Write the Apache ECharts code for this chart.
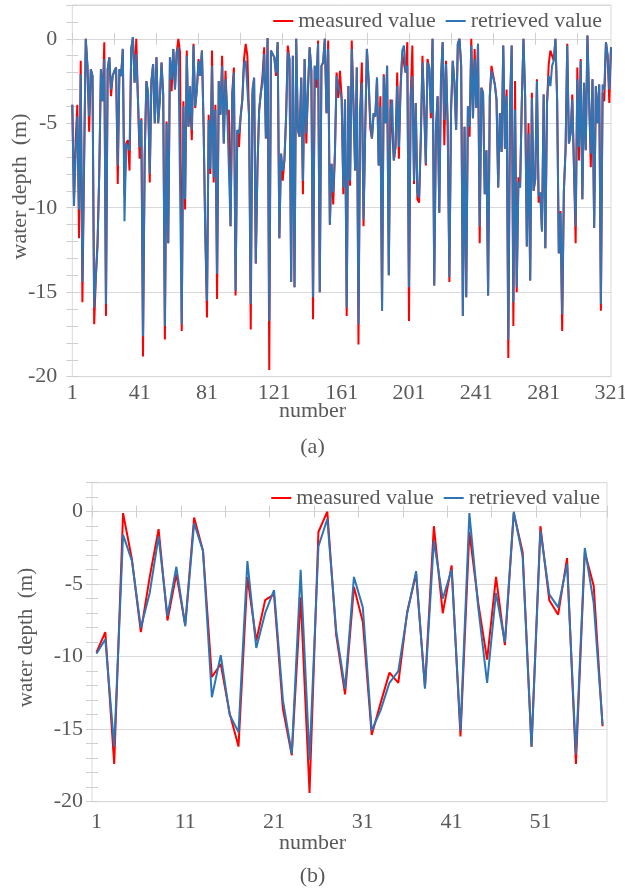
<!DOCTYPE html>
<html>
<head>
<meta charset="utf-8">
<script src="https://cdn.jsdelivr.net/npm/echarts@6/dist/echarts.min.js"></script>
<style>
html,body{margin:0;padding:0;background:#fff;}
#main{width:625px;height:888px;}
</style>
</head>
<body>
<div id="main"></div>
<script>
// ---------- DATA ----------
const seriesNames = ['measured value', 'retrieved value'];

// panel (a): 321 samples
const measuredA = [
 -3.9, -9.5, -6.0, -3.9, -11.8, -1.3, -15.6, -7.5, 0, -1.6,
 -5.5, -1.8, -2.2, -16.9, -14.1, -12.0, -8.0, -1.8, -3.7, -0.2,
 -16.4, -1.8, -1.1, -3.4, -2.2, -1.9, -1.7, -8.6, -1.8, -2.2,
 -0.6, -9.3, -6.2, -6.0, -7.8, -0.6, 0.1, -2.6, 0, -3.6,
 -7.1, -4.7, -18.8, -7.0, -2.5, -3.2, -8.5, -2.5, -1.5, -5.0,
 -1.1, -5.0, -3.6, -1.4, -3.3, -17.8, -4.9, -12.1, -1.1, -3.1,
 -0.6, -3.0, -0.8, 0, -0.8, -17.3, -3.7, -10.1, -0.7, -5.2,
 -3.6, -6.0, -0.3, -4.1, -3.0, -1.2, -2.2, -0.7, -5.2, -11.5,
 -16.5, -4.5, -8.0, -0.7, -8.5, -3.9, -15.4, -2.5, -4.5, -1.0,
 -6.2, -1.9, -4.5, -4.2, -11.1, -3.2, -1.7, -15.2, -5.4, -6.4,
 -4.6, -3.6, -1.2, -0.3, -1.0, -4.6, -17.2, -3.4, -2.3, -13.3,
 -7.6, -4.2, -3.2, -2.2, -0.5, -5.9, 0.05, -19.6, -0.7, -0.8,
 -1.1, -2.2, -0.2, -11.8, -6.8, -8.4, -7.2, -4.6, -0.4, -1.2,
 -14.4, -1.0, -14.7, 0, -5.4, -5.8, -2.3, -9.2, -1.2, -6.2,
 -3.0, -0.5, -1.9, -16.6, -1.6, -2.9, -0.1, -15.0, -1.6, -1.4,
 0, -4.4, -0.1, -11.0, -7.4, -9.8, -6.8, -2.0, -3.5, -1.9,
 -3.5, -9.2, -3.6, -16.4, -2.8, -8.7, -0.1, -3.8, -7.8, -1.7,
 -18.1, -4.3, -1.4, -11.1, -5.4, -0.6, -2.4, -5.3, -5.9, -4.4,
 -4.6, -2.3, -7.5, -3.4, -16.1, -2.1, -5.0, -1.6, -14.0, -3.6,
 -3.6, -7.2, -6.4, -2.0, -7.1, -2.9, -0.9, -1.0, -2.0, -0.2,
 -16.7, -3.4, -0.4, -8.6, -3.8, -9.5, -9.7, -6.0, -1.0, -4.0,
 -7.5, -1.2, -1.7, -4.7, 0, -14.6, -5.4, -3.4, -10.3, -2.4,
 -0.2, -6.3, -1.3, -5.2, -14.4, -4.2, -1.3, -2.6, -5.4, -0.3,
 0, -1.6, -16.4, -5.2, -15.3, -4.0, -5.8, 0, -4.7, -0.6,
 -4.1, -0.3, -12.1, -2.9, -3.2, -9.2, -6.6, -15.2, -3.4, -1.6,
 -1.5, -2.7, -3.6, -8.8, -4.4, -6.7, -0.4, -6.5, -3.0, -18.9,
 -4.0, -0.4, -17.0, -2.5, -15.0, -8.2, -8.8, -3.8, 0, -3.4,
 -12.3, -5.0, -14.3, -3.2, -9.0, -8.3, -2.4, -9.7, -9.1, -11.4,
 -3.3, -12.4, -3.8, -1.5, -0.7, -0.7, -1.3, 0, -3.6, -12.7,
 -10.2, -17.3, -9.0, -6.6, -0.3, -6.2, -5.6, -3.3, -7.6, -12.1,
 -1.7, -7.2, -1.2, -9.5, -2.6, -6.6, 0.2, -3.6, -7.6, -2.4,
 -11.2, -2.8, -5.0, -2.7, -16.1, -3.2, -3.7, -0.2, -1.0, -3.8, -0.5
];
const retrievedA = [
 -3.9, -9.9, -6.8, -4.6, -10.1, -2.1, -14.4, -7.2, 0, -1.6,
 -4.6, -1.8, -2.2, -15.9, -14.0, -12.3, -8.0, -1.8, -3.7, -1.2,
 -15.7, -1.8, -1.1, -3.0, -2.2, -1.9, -1.7, -7.5, -1.8, -2.2,
 -0.6, -10.8, -6.2, -6.2, -6.6, -0.6, 0.1, -2.6, -0.9, -3.6,
 -6.4, -4.8, -17.6, -7.0, -2.5, -3.2, -8.0, -2.5, -1.5, -5.0,
 -1.1, -5.0, -3.6, -1.4, -3.3, -17.0, -5.0, -12.1, -1.1, -2.4,
 -0.6, -3.0, -0.8, -0.5, -0.6, -16.9, -4.0, -9.5, -1.0, -5.2,
 -2.8, -5.4, -0.4, -4.0, -3.0, -1.3, -2.2, -0.7, -5.2, -11.5,
 -15.5, -4.8, -7.7, -1.6, -8.2, -4.2, -13.9, -2.5, -4.5, -1.6,
 -6.2, -2.4, -4.2, -4.2, -11.1, -3.5, -2.0, -14.9, -5.4, -5.6,
 -4.6, -3.6, -1.5, -1.3, -1.3, -4.6, -15.7, -3.0, -2.3, -13.3,
 -7.6, -4.2, -3.2, -2.6, -0.9, -5.9, 0.05, -16.7, -0.7, -0.8,
 -1.1, -2.0, -0.2, -11.8, -6.8, -7.8, -7.2, -4.6, -0.8, -1.2,
 -14.4, -1.0, -14.7, 0, -5.4, -5.8, -2.3, -8.4, -1.2, -5.6,
 -3.0, -0.5, -1.9, -15.3, -1.6, -2.4, -0.3, -15.0, -1.6, -1.4,
 0, -4.4, -0.6, -11.0, -7.4, -9.1, -6.8, -2.2, -2.8, -2.8,
 -3.5, -8.8, -3.6, -15.9, -2.8, -8.4, -0.6, -3.8, -7.8, -1.7,
 -16.9, -4.3, -2.6, -10.7, -5.4, -0.6, -2.4, -4.8, -5.9, -4.4,
 -4.6, -2.3, -7.5, -4.0, -16.1, -2.2, -5.0, -1.6, -14.0, -4.2,
 -3.6, -7.2, -6.4, -2.8, -6.4, -2.9, -0.7, -0.4, -2.0, -1.6,
 -14.7, -3.4, -2.2, -8.4, -3.8, -9.1, -9.4, -6.0, -1.4, -4.0,
 -7.4, -1.4, -1.7, -4.4, 0, -14.6, -5.4, -3.4, -10.3, -2.4,
 -0.2, -4.8, -1.5, -5.2, -14.1, -4.2, -1.3, -2.6, -5.4, -0.3,
 0, -1.6, -16.4, -5.2, -15.3, -4.0, -5.2, -0.4, -4.7, -1.2,
 -4.1, -0.3, -11.1, -2.9, -3.2, -9.2, -6.6, -15.2, -3.4, -1.9,
 -2.0, -2.7, -3.6, -8.8, -4.4, -6.7, -0.4, -6.5, -3.4, -17.8,
 -4.0, -0.4, -15.6, -4.2, -14.7, -8.5, -8.8, -3.8, 0, -3.4,
 -12.3, -5.6, -14.3, -3.5, -9.0, -8.3, -2.5, -9.3, -9.1, -11.4,
 -3.3, -12.4, -3.8, -2.2, -2.8, -1.6, -1.3, 0, -3.6, -12.7,
 -10.3, -16.3, -9.0, -6.6, -0.4, -6.2, -5.6, -3.6, -7.6, -11.1,
 -2.4, -6.4, -1.3, -9.5, -2.6, -6.6, 0.2, -3.6, -6.8, -2.4,
 -11.2, -2.8, -5.0, -2.7, -15.7, -2.7, -3.0, -0.2, -1.0, -3.0, -0.5
];

// panel (b): 58 samples
const measuredB = [
 -9.7, -8.3, -17.4, -0.1, -3.3, -8.3, -4.5, -1.2, -7.5, -4.3,
 -7.8, -0.4, -2.7, -11.4, -10.5, -13.9, -16.2, -4.5, -8.9, -6.1,
 -5.7, -13.6, -16.8, -5.9, -19.4, -1.4, 0, -8.5, -12.6, -5.2,
 -7.6, -15.4, -13.2, -11.1, -11.8, -6.9, -4.3, -12.1, -1.0, -7.0,
 -3.7, -15.5, -1.4, -6.3, -10.2, -4.5, -9.2, -0.1, -2.8, -16.2,
 -1.0, -6.1, -7.1, -3.2, -17.4, -2.8, -5.1, -14.8
];
const retrievedB = [
 -9.8, -8.8, -16.2, -1.6, -3.4, -8.0, -5.6, -1.7, -7.2, -3.8,
 -7.9, -0.8, -2.7, -12.8, -9.9, -14.0, -15.2, -3.4, -9.4, -7.0,
 -5.4, -13.0, -16.7, -4.0, -17.1, -2.4, -0.5, -8.2, -12.2, -4.5,
 -6.6, -15.1, -13.7, -11.8, -11.0, -7.0, -4.1, -12.2, -2.0, -6.0,
 -4.0, -15.1, -0.1, -6.6, -11.8, -5.6, -9.0, 0, -3.1, -16.2,
 -1.3, -5.7, -6.6, -3.6, -16.7, -2.5, -6.3, -14.7
];

// category labels (sample numbers)
const categoriesA = measuredA.map((_, i) => String(i + 1));
const categoriesB = measuredB.map((_, i) => String(i + 1));

const yMin = -20, yMax = 2, yStep = 5;
const yTitle = 'water depth  (m)';
const xTitle = 'number';
const panelTags = ['(a)', '(b)'];

// ---------- STYLE ----------
const FONT = "'Liberation Serif', 'Times New Roman', serif";
const TXT = '#595959';
const GRID_C = '#D9D9D9';
const TICK_C = '#CFCFCF';
const RED = '#FF0000';
const BLUE = '#2E75B6';

const A = { left: 72.3, top: 5, width: 538.7, height: 371.7 };
const B = { left: 92, top: 482.7, width: 515, height: 319 };
const zeroA = A.top + A.height * (yMax / (yMax - yMin));
const zeroB = B.top + B.height * (yMax / (yMax - yMin));

function labelYAxis(gridIndex, margin) {
  return {
    type: 'value', gridIndex, position: 'left', min: yMin, max: yMax, interval: yStep,
    axisLine: { show: false }, axisTick: { show: false },
    axisLabel: { showMaxLabel: false, margin, fontFamily: FONT, fontSize: 22, color: TXT },
    splitLine: { show: true, lineStyle: { color: GRID_C, width: 1 } }
  };
}
function tickYAxis(gridIndex) {
  return {
    type: 'value', gridIndex, position: 'left', min: yMin, max: yMax, interval: 1, offset: -6,
    axisLine: { show: false, onZero: false }, axisLabel: { show: false }, splitLine: { show: false },
    axisTick: { show: true, length: 12, lineStyle: { color: TICK_C, width: 1 } }
  };
}
function labelXAxis(gridIndex, data, gap, lblInterval, margin) {
  return {
    type: 'category', gridIndex, data, boundaryGap: gap, position: 'bottom',
    axisLine: { show: false, onZero: false }, axisTick: { show: false },
    axisLabel: { interval: lblInterval, margin, fontFamily: FONT, fontSize: 22, color: TXT },
    splitLine: { show: false }
  };
}
function tickXAxis(gridIndex, data, gap, tickInterval, offset) {
  return {
    type: 'category', gridIndex, data, boundaryGap: gap, position: 'top', offset,
    axisLine: { show: false, onZero: false }, axisLabel: { show: false },
    axisTick: { show: true, interval: tickInterval, length: 12, lineStyle: { color: TICK_C, width: 1 } },
    splitLine: { show: false }
  };
}
function lineSeries(name, data, color, xi, yi) {
  return {
    type: 'line', name, data, xAxisIndex: xi, yAxisIndex: yi,
    symbol: 'none', smooth: false, animation: false,
    lineStyle: { color, width: 2 }, itemStyle: { color },
    emphasis: { disabled: true }
  };
}
function legend(top, right) {
  return {
    data: seriesNames, top, right, padding: 0, orient: 'horizontal',
    icon: 'rect', itemWidth: 20, itemHeight: 2, itemGap: 10,
    textStyle: { fontFamily: FONT, fontSize: 22, color: TXT, padding: [0, 0, 0, 0] },
    selectedMode: false
  };
}
function txt(text, x, y, size, rot) {
  return {
    type: 'text', x, y, rotation: rot || 0, silent: true,
    style: { text, fill: TXT, font: size + 'px ' + FONT, align: 'center', verticalAlign: 'middle' }
  };
}

const chart = echarts.init(document.getElementById('main'), null, { renderer: 'canvas' });
chart.setOption({
  animation: false,
  backgroundColor: '#fff',
  grid: [
    Object.assign({ show: true, borderColor: GRID_C, borderWidth: 1, containLabel: false, outerBoundsMode: 'none' }, A),
    Object.assign({ show: true, borderColor: GRID_C, borderWidth: 1, containLabel: false, outerBoundsMode: 'none' }, B)
  ],
  xAxis: [
    labelXAxis(0, categoriesA, false, 39, 6),
    tickXAxis(0, categoriesA, false, 24, -(zeroA - A.top + 6)),
    labelXAxis(1, categoriesB, true, 9, 10),
    tickXAxis(1, categoriesB, true, 4, -(zeroB - B.top + 6))
  ],
  yAxis: [labelYAxis(0, 15), tickYAxis(0), labelYAxis(1, 9), tickYAxis(1)],
  legend: [legend(10, 23), legend(487, 25)],
  series: [
    lineSeries(seriesNames[0], measuredA, RED, 0, 0),
    lineSeries(seriesNames[1], retrievedA, BLUE, 0, 0),
    lineSeries(seriesNames[0], measuredB, RED, 2, 2),
    lineSeries(seriesNames[1], retrievedB, BLUE, 2, 2)
  ],
  graphic: [
    txt(yTitle, 20, 186.5, 22, Math.PI / 2),
    txt(xTitle, 312.5, 411, 22),
    txt(panelTags[0], 312.5, 447, 22),
    txt(yTitle, 26, 637.5, 21, Math.PI / 2),
    txt(xTitle, 312.5, 843, 22),
    txt(panelTags[1], 312.5, 876.5, 22)
  ]
});
</script>
</body>
</html>
